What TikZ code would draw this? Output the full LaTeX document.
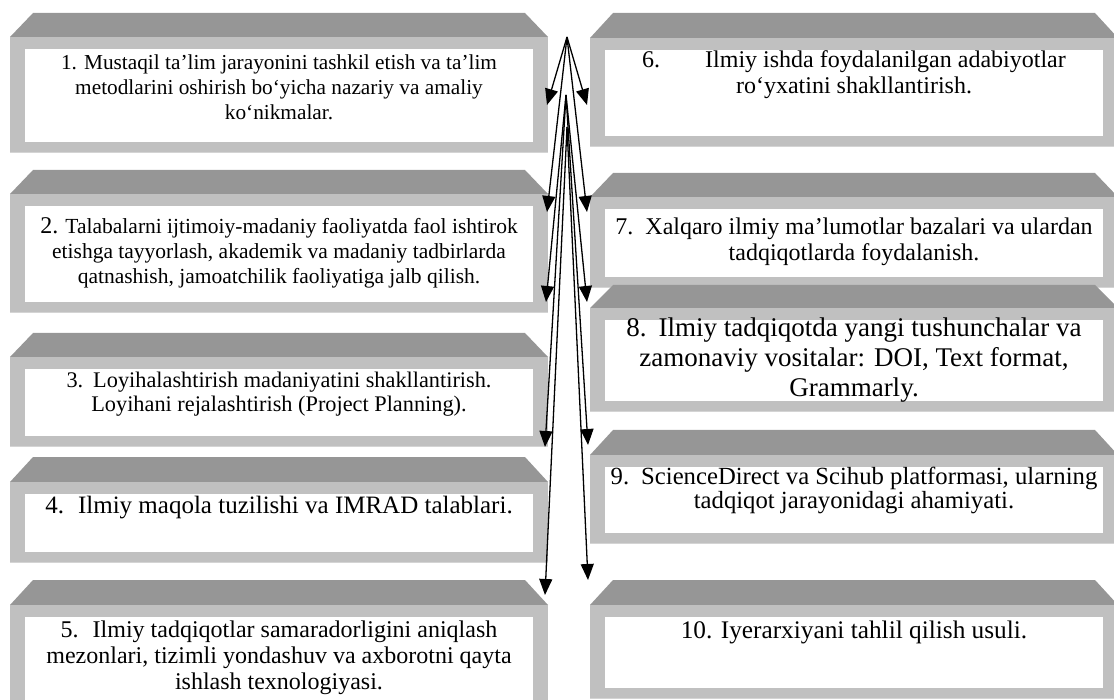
\documentclass[tikz,border=0pt]{standalone}
\usepackage{fontspec}
\setmainfont{Liberation Serif}
\usetikzlibrary{arrows.meta}
\definecolor{topgray}{HTML}{969696}
\definecolor{framegray}{HTML}{C0C0C0}
\definecolor{edgegray}{HTML}{D4D4D4}
% #1 name, #2 x1, #3 x2, #4 trapezoid top, #5 front top, #6 front bottom, #7 text position, #8 font size/skip, #9 text
\def\fsz#1/#2\relax{\fontsize{#1}{#2}\selectfont}
\newcommand\bevbox[9]{%
  \fill[topgray] (#2+23,#4) -- (#3-23,#4) -- (#3,#5) -- (#2,#5) -- cycle;
  \fill[framegray] (#2,#5) rectangle (#3,#6);
  \draw[edgegray, line width=0.8pt] (#2,#6) -- (#3,#6);
  \fill[white] (#2+15,#5+12) rectangle (#3-15,#6-10);
  \node[txt, font=\fsz#8\relax] (#1) at (#7) {#9};
}
\begin{document}
\begin{tikzpicture}[x=1pt,y=-1pt,
  txt/.style={align=center, inner sep=0pt, text=black},
  arr/.style={-{Triangle[length=16pt,width=13pt]}, line width=1.3pt}]
\useasboundingbox (0,0) rectangle (1114,700);
% left column
\bevbox{b1}{10}{548}{13}{37}{152}{279,87}{21.3/25}{1. Mustaqil ta’lim jarayonini tashkil etish va ta’lim\\metodlarini oshirish bo‘yicha nazariy va amaliy\\ko‘nikmalar.}
\bevbox{b2}{10}{548}{170}{194}{312}{279,253}{21.5/25}{{\fontsize{24}{25}\selectfont 2.} Talabalarni ijtimoiy-madaniy faoliyatda faol ishtirok\\etishga tayyorlash, akademik va madaniy tadbirlarda\\qatnashish, jamoatchilik faoliyatiga jalb qilish.}
\bevbox{b3}{10}{548}{333}{357}{446}{279,394}{22.3/24}{3.\hspace{10pt}Loyihalashtirish madaniyatini shakllantirish.\\Loyihani rejalashtirish (Project Planning).}
\bevbox{b4}{10}{548}{457}{482}{562}{279,508}{25/26}{4.\hspace{14pt}Ilmiy maqola tuzilishi va IMRAD talablari.}
\bevbox{b5}{10}{548}{580}{605}{712}{279,658}{24/26}{5.\hspace{14pt}Ilmiy tadqiqotlar samaradorligini aniqlash\\mezonlari, tizimli yondashuv va axborotni qayta\\ishlash texnologiyasi.}
% right column
\bevbox{b6}{590}{1118}{13}{38}{146}{854,75}{24/26}{6.\hspace{45pt}Ilmiy ishda foydalanilgan adabiyotlar\\ro‘yxatini shakllantirish.}
\bevbox{b7}{590}{1118}{173}{197}{287}{854,242}{24/26}{7.\hspace{12pt}Xalqaro ilmiy ma’lumotlar bazalari va ulardan\\tadqiqotlarda foydalanish.}
\bevbox{b8}{590}{1118}{285}{308}{411}{854,360}{27/30}{8.\hspace{12pt}Ilmiy tadqiqotda yangi tushunchalar va\\zamonaviy vositalar: DOI, Text format,\\Grammarly.}
\bevbox{b9}{590}{1118}{430}{455}{543}{854,490}{24.7/24}{9.\hspace{12pt}ScienceDirect va Scihub platformasi, ularning\\tadqiqot jarayonidagi ahamiyati.}
\bevbox{b10}{590}{1118}{580}{605}{698}{854,632}{25.3/26}{10. Iyerarxiyani tahlil qilish usuli.}
% arrows
\coordinate (A) at (567,37);
\coordinate (B) at (566,95);
\coordinate (C) at (567,127);
\coordinate (t1) at (547,105);
\coordinate (t6) at (587,105);
\coordinate (t2) at (547,212);
\coordinate (t7) at (587,212);
\coordinate (t3) at (546,302);
\coordinate (t8) at (587,302);
\coordinate (t4) at (545,447);
\coordinate (t9) at (588,445);
\coordinate (t5) at (545,595);
\coordinate (t10) at (588,580);
\draw[arr] (A) -- (t1);
\draw[arr] (A) -- (t6);
\draw[arr] (A) -- (t2);
\draw[arr] (A) -- (t7);
\draw[arr] (B) -- (t3);
\draw[arr] (B) -- (t8);
\draw[arr] (B) -- (t4);
\draw[arr] (B) -- (t9);
\draw[arr] (C) -- (t5);
\draw[arr] (C) -- (t10);
\end{tikzpicture}
\end{document}
